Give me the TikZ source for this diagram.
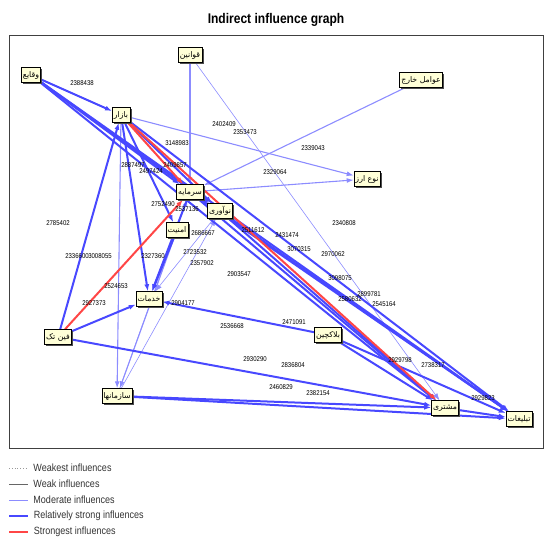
\documentclass[tikz,border=0pt]{standalone}
\usepackage{fontspec}
\setmainfont{Liberation Sans}
\newfontfamily\narrow[FakeStretch=0.86]{Liberation Sans}
\newfontfamily\farsi[Script=Arabic]{DejaVu Sans}
\TeXXeTstate=1
\usetikzlibrary{arrows.meta,shadows,backgrounds}
\definecolor{boxfill}{RGB}{255,255,215}
\definecolor{relblue}{RGB}{72,72,255}
\definecolor{modblue}{RGB}{140,140,255}
\definecolor{hotred}{RGB}{255,70,70}
\newcommand{\fa}[1]{{\farsi\beginR #1\endR}}

\begin{document}
\begin{tikzpicture}[
  x=1pt, y=-1pt,
  >={Latex[length=7pt,width=5pt]},
  factor/.style={draw, fill=boxfill, inner sep=1.6pt, minimum height=15pt, font=\fontsize{7.8}{9}\selectfont,
    drop shadow={shadow xshift=1.8pt, shadow yshift=-1.8pt, fill=black!70, opacity=1}},
  val/.style={font=\narrow\fontsize{7}{7}\selectfont, inner sep=0pt},
  relstrong/.style={->, line width=2pt, relblue},
  moderate/.style={->, line width=1.1pt, modblue},
  faint/.style={->, line width=0.6pt, modblue},
  hottest/.style={->, line width=2pt, hotred},
  key/.style={font=\narrow\fontsize{10.5}{11}\selectfont, text=black!80, anchor=west, inner sep=0pt}
]
\useasboundingbox (0,0) rectangle (551,540);

%% Title and frame
\node[font=\narrow\bfseries\fontsize{14}{15}\selectfont] (title) at (276,20) {Indirect influence graph};
\draw[black!75, line width=0.8pt] (9,35) rectangle (543,448);

%% Factors
\node[factor] (waqaye) at (31,75) {\fa{وقایع}};
\node[factor] (qavanin) at (190,55) {\fa{قوانین}};
\node[factor] (avamel) at (421,80) {\fa{عوامل خارج}};
\node[factor] (bazar) at (121,115) {\fa{بازار}};
\node[factor] (sarmaye) at (190,192) {\fa{سرمایه}};
\node[factor] (noavari) at (220,211) {\fa{نوآوری}};
\node[factor] (arz) at (367,179) {\fa{نوع ارز}};
\node[factor] (amniat) at (177,230) {\fa{امنیت}};
\node[factor] (khadamat) at (149,299) {\fa{خدمات}};
\node[factor] (fintech) at (58,337) {\fa{فین تک}};
\node[factor] (sazman) at (117,396) {\fa{سازمانها}};
\node[factor] (blockchain) at (328,335) {\fa{بلاکچین}};
\node[factor] (moshtari) at (445,408) {\fa{مشتری}};
\node[factor] (tabligh) at (519,419) {\fa{تبلیغات}};

\begin{scope}[on background layer]
%% Moderate influences
\draw[moderate] (qavanin) -- (sarmaye);
\draw[moderate] (bazar) -- (arz);
\draw[moderate] (sarmaye) -- (arz);
\draw[moderate] (avamel) -- (sarmaye);
\draw[moderate] (bazar) -- (sazman);
\draw[moderate] (amniat) -- (sazman);
\draw[faint] (qavanin) -- (moshtari);
\draw[faint] (sazman) -- (sarmaye);
\draw[faint] (sazman) -- (noavari);
\draw[faint] (noavari) -- (khadamat);

%% Relatively strong influences
\draw[relstrong] (waqaye) -- (bazar);
\draw[relstrong] (waqaye) -- (sarmaye);
\draw[relstrong] (waqaye) -- (noavari);
\draw[relstrong] (waqaye) -- (moshtari);
\draw[relstrong] (waqaye) -- (tabligh);
\draw[relstrong] (bazar) -- (khadamat);
\draw[relstrong] (bazar) -- (amniat);
\draw[relstrong] (bazar) -- (noavari);
\draw[relstrong] (bazar) -- (tabligh);
\draw[relstrong] (fintech) -- (bazar);
\draw[relstrong] (fintech) -- (khadamat);
\draw[relstrong] (fintech) -- (moshtari);
\draw[relstrong] (sazman) -- (moshtari);
\draw[relstrong] (sazman) -- (tabligh);
\draw[relstrong] (blockchain) -- (khadamat);
\draw[relstrong] (blockchain) -- (moshtari);
\draw[relstrong] (blockchain) -- (tabligh);
\draw[relstrong] (sarmaye) -- (moshtari);
\draw[relstrong] (sarmaye) -- (tabligh);
\draw[relstrong] (noavari) -- (moshtari);
\draw[relstrong] (noavari) -- (tabligh);
\draw[relstrong] (amniat) -- (khadamat);
\draw[relstrong] (sarmaye) -- (khadamat);
\draw[relstrong] (moshtari) -- (tabligh);

%% Strongest influences
\draw[hottest] (bazar) -- (sarmaye);
\draw[hottest] (bazar) -- (moshtari);
\draw[hottest] (fintech) -- (sarmaye);

%% Influence values
\node[val] (v1) at (82,83) {2388438};
\node[val] (v2) at (224,124) {2402409};
\node[val] (v3) at (245,132) {2353473};
\node[val] (v4) at (177,143) {3148983};
\node[val] (v5) at (313,148) {2339043};
\node[val] (v6) at (133,165) {2887497};
\node[val] (v7) at (175,165) {2409857};
\node[val] (v8) at (151,171) {2497424};
\node[val] (v9) at (275,172) {2329064};
\node[val] (v10) at (163,204) {2752490};
\node[val] (v11) at (187,209) {2537136};
\node[val] (v12) at (58,223) {2785402};
\node[val] (v13) at (344,223) {2340808};
\node[val] (v14) at (203,233) {2686667};
\node[val] (v15) at (253,230) {2511612};
\node[val] (v16) at (287,235) {2431474};
\node[val] (v17) at (299,249) {3070315};
\node[val] (v18) at (333,254) {2970062};
\node[val] (v19) at (195,252) {2723532};
\node[val] (v20) at (202,263) {2357902};
\node[val] (v21) at (239,274) {2903547};
\node[val] (v22) at (77,256) {2336600};
\node[val] (v23) at (100,256) {3008055};
\node[val] (v24) at (153,256) {2327360};
\node[val] (v25) at (340,278) {3098075};
\node[val] (v26) at (369,294) {2899781};
\node[val] (v27) at (350,299) {2580632};
\node[val] (v28) at (384,304) {2545164};
\node[val] (v29) at (116,286) {2524653};
\node[val] (v30) at (94,303) {2927373};
\node[val] (v31) at (183,303) {2904177};
\node[val] (v32) at (232,326) {2536668};
\node[val] (v33) at (294,322) {2471091};
\node[val] (v34) at (255,359) {2930290};
\node[val] (v35) at (293,365) {2836804};
\node[val] (v36) at (400,360) {2929798};
\node[val] (v37) at (433,365) {2738317};
\node[val] (v38) at (281,387) {2460829};
\node[val] (v39) at (318,393) {2382154};
\node[val] (v40) at (483,398) {2929823};
\end{scope}

%% Legend
\coordinate (k1) at (9,468);
\coordinate (k2) at (9,484);
\coordinate (k3) at (9,500);
\coordinate (k4) at (9,516);
\coordinate (k5) at (9,532);
\draw[black!40, dotted, line width=0.8pt] (k1) -- ++(19,0) node[key, right=5pt] (t1) {Weakest influences};
\draw[black!60, line width=0.9pt] (k2) -- ++(19,0) node[key, right=5pt] (t2) {Weak influences};
\draw[modblue, line width=0.9pt] (k3) -- ++(19,0) node[key, right=5pt] (t3) {Moderate influences};
\draw[relblue, line width=1.6pt] (k4) -- ++(19,0) node[key, right=5pt] (t4) {Relatively strong influences};
\draw[hotred, line width=1.6pt] (k5) -- ++(19,0) node[key, right=5pt] (t5) {Strongest influences};
\end{tikzpicture}
\end{document}
